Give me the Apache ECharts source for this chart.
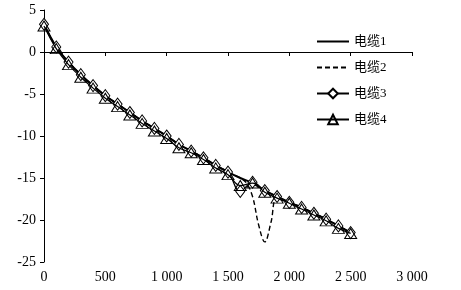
<!DOCTYPE html>
<html>
<head>
<meta charset="utf-8">
<script src="https://cdn.jsdelivr.net/npm/echarts@6/dist/echarts.min.js"></script>
<style>
  html, body { margin: 0; padding: 0; background: #fff; }
  #chart { width: 461px; height: 290px; }
</style>
</head>
<body>
<div id="chart"></div>
<script>
// distance along the cable (m)
const distance = [0, 100, 200, 300, 400, 500, 600, 700, 800, 900, 1000, 1100, 1200,
  1300, 1400, 1500, 1600, 1700, 1800, 1900, 2000, 2100, 2200, 2300, 2400, 2500];

const cable1 = [3.3, 0.6, -1.2, -2.7, -4.0, -5.2, -6.2, -7.2, -8.2, -9.1, -10.0, -11.0, -11.8,
  -12.6, -13.5, -14.3, -15.0, -15.6, -16.5, -17.2, -17.9, -18.5, -19.2, -19.9, -20.7, -21.5];

// cable 2 is sampled a bit denser around the dip
const distance2 = [0, 100, 200, 300, 400, 500, 600, 700, 800, 900, 1000, 1100, 1200,
  1300, 1400, 1500, 1600, 1650, 1700, 1750, 1800, 1850, 1900, 2000, 2100, 2200, 2300, 2400, 2500];
const cable2 = [3.3, 0.6, -1.2, -2.7, -4.0, -5.2, -6.2, -7.2, -8.2, -9.1, -10.0, -11.0, -11.8,
  -12.6, -13.5, -14.3, -15.0, -15.6, -17.2, -20.6, -22.6, -20.3, -17.4, -17.9, -18.5, -19.2, -19.9, -20.7, -21.5];

const cable3 = [3.3, 0.6, -1.2, -2.7, -4.0, -5.2, -6.2, -7.2, -8.2, -9.1, -10.0, -11.0, -11.8,
  -12.6, -13.5, -14.3, -16.6, -15.5, -16.5, -17.2, -17.9, -18.5, -19.2, -19.9, -20.7, -21.5];
const cable4 = [3.1, 0.4, -1.5, -3.0, -4.3, -5.5, -6.5, -7.5, -8.5, -9.4, -10.3, -11.4, -12.0,
  -12.8, -13.8, -14.6, -15.9, -15.6, -16.7, -17.4, -18.0, -18.7, -19.4, -20.1, -21.0, -21.6];

const seriesNames = ['电缆1', '电缆2', '电缆3', '电缆4'];

const font = '"Liberation Serif", "Times New Roman", "Noto Sans CJK SC", serif';

const pairs = (xs, ys) => xs.map((x, i) => [x, ys[i]]);

const chart = echarts.init(document.getElementById('chart'), null, { renderer: 'canvas' });

const axisCommon = {
  axisLine: { show: true, lineStyle: { color: '#000', width: 1 } },
  axisTick: { show: true, length: 4, lineStyle: { color: '#000' } },
  splitLine: { show: false },
  axisLabel: { color: '#000', fontFamily: font, fontSize: 14 }
};

chart.setOption({
  animation: false,
  backgroundColor: '#fff',
  grid: { left: 44, right: 49, top: 10, bottom: 28, containLabel: false },
  xAxis: Object.assign({}, axisCommon, {
    type: 'value',
    min: 0,
    max: 3000,
    interval: 500,
    axisLabel: Object.assign({}, axisCommon.axisLabel, {
      margin: 8,
      formatter: (v) => String(v).replace(/\B(?=(\d{3})+(?!\d))/g, ' ')
    })
  }),
  yAxis: Object.assign({}, axisCommon, {
    type: 'value',
    min: -25,
    max: 5,
    interval: 5,
    axisLabel: Object.assign({}, axisCommon.axisLabel, { margin: 8 })
  }),
  legend: {
    orient: 'vertical',
    left: 311,
    top: 30,
    itemWidth: 32,
    itemHeight: 12,
    itemGap: 13,
    textStyle: { color: '#000', fontFamily: font, fontSize: 13 },
    data: [
      // plain line entries: hide the marker, keep the line
      { name: seriesNames[0], itemStyle: { opacity: 0 } },
      { name: seriesNames[1], itemStyle: { opacity: 0 } },
      { name: seriesNames[2] },
      { name: seriesNames[3] }
    ]
  },
  series: [
    {
      name: seriesNames[1],
      type: 'line',
      smooth: 0.4,
      symbol: 'none',
      lineStyle: { color: '#000', width: 1.4, type: [5, 3] },
      itemStyle: { color: '#000' },
      data: pairs(distance2, cable2),
      z: 1
    },
    {
      name: seriesNames[0],
      type: 'line',
      smooth: 0.4,
      symbol: 'none',
      lineStyle: { color: '#000', width: 2 },
      itemStyle: { color: '#000' },
      data: pairs(distance, cable1),
      z: 3
    },
    {
      name: seriesNames[2],
      type: 'line',
      smooth: 0.4,
      symbol: 'diamond',
      symbolSize: [9, 12],
      lineStyle: { color: '#000', width: 1.2 },
      itemStyle: { color: '#fff', borderColor: '#000', borderWidth: 1 },
      data: pairs(distance, cable3),
      z: 4
    },
    {
      name: seriesNames[3],
      type: 'line',
      smooth: 0.4,
      symbol: 'triangle',
      symbolSize: [12, 10],
      lineStyle: { color: '#000', width: 1.2 },
      itemStyle: { color: 'rgba(255,255,255,0)', borderColor: '#000', borderWidth: 1 },
      data: pairs(distance, cable4),
      z: 5
    }
  ]
});
</script>
</body>
</html>
